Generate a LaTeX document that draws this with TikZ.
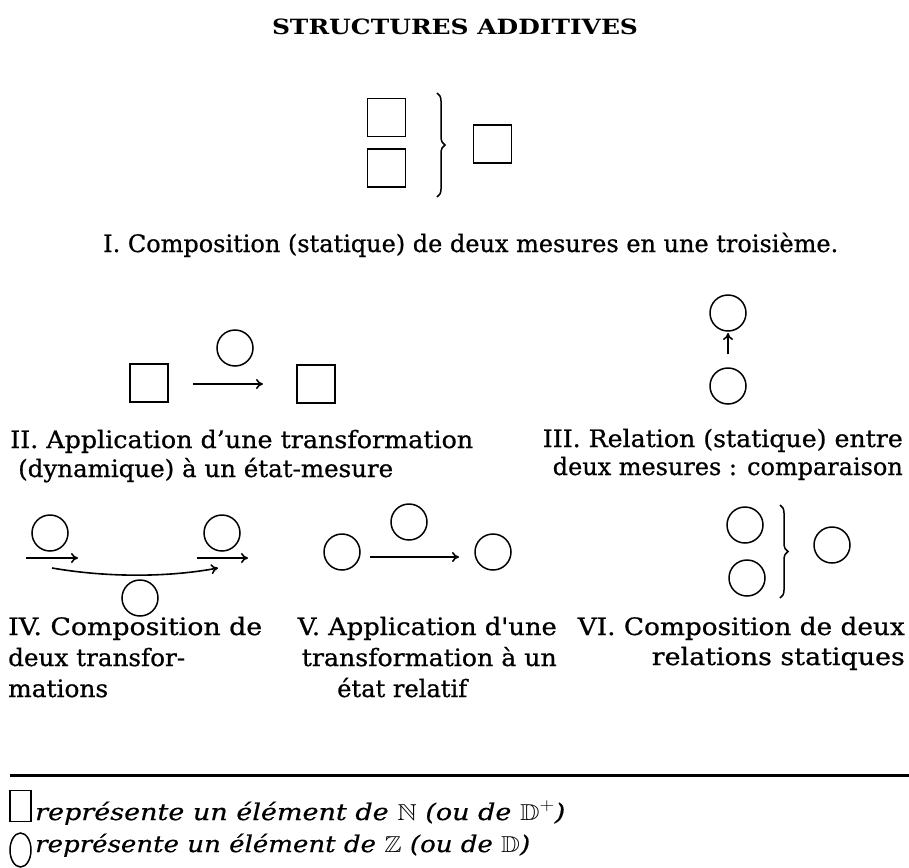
\documentclass[tikz,border=0pt]{standalone}
\usepackage{amssymb}
\usepackage{graphicx}
\usepackage{fontspec}
\setmainfont{DejaVu Serif}
\newfontfamily\bodyfont{DejaVu Serif}[FakeBold=0.7]
\newfontfamily\keyfont{DejaVu Serif}[FakeBold=0.5]
\usetikzlibrary{arrows.meta,decorations.pathreplacing,shapes.geometric}

% set a line of text to a given width, keeping its height
\newcommand\fitline[2]{\resizebox{#1}{\height}{#2}}

\begin{document}
\begin{tikzpicture}[x=1pt,y=-1pt,
  sq/.style={draw,line width=1.8pt,minimum size=38pt,inner sep=0pt},
  ci/.style={draw,circle,line width=1.5pt,minimum size=36pt,inner sep=0pt},
  arr/.style={-{To[length=7pt,width=10pt]},line width=1.6pt},
  bracestyle/.style={decorate,decoration={brace,amplitude=8pt},line width=1.5pt},
  body/.style={font=\bodyfont\fontsize{24}{28}\selectfont,inner sep=0pt},
  headline/.style={font=\fontsize{21}{24}\selectfont\bfseries,inner sep=0pt},
  legend/.style={font=\keyfont\fontsize{23}{26}\selectfont\itshape,inner sep=0pt}]
\useasboundingbox (0,0) rectangle (909,867);
\fill[white] (0,0) rectangle (909,867);

% title
\node[headline,anchor=base] (title) at (455,35) {\fitline{366pt}{STRUCTURES ADDITIVES}};

% I. two measures composed into a third
\node[sq] (s1a) at (386.5,117.5) {};
\node[sq] (s1b) at (386.5,168) {};
\node[sq] (s1c) at (492.5,144) {};
\draw[bracestyle] (437,93) -- (437,197);
\node[body,anchor=base west] (t1) at (103,252) {\fitline{735pt}{I. Composition (statique) de deux mesures en une troisième.}};

% II. transformation applied to a state
\node[sq] (s2a) at (149,383) {};
\node[ci] (c2) at (235,348) {};
\node[sq] (s2b) at (316,384) {};
\coordinate (a2s) at (193,384);
\coordinate (a2e) at (263,384);
\draw[arr] (a2s) -- (a2e);
\node[body,anchor=base west] (t2a) at (10,448) {\fitline{463pt}{II. Application d’une transformation}};
\node[body,anchor=base west] (t2b) at (18,477) {\fitline{375pt}{(dynamique) à un état-mesure}};

% III. static relation between two measures
\node[ci] (c3t) at (728,313) {};
\node[ci] (c3b) at (728,386) {};
\coordinate (a3s) at (728,354);
\coordinate (a3e) at (728,333);
\draw[arr] (a3s) -- (a3e);
\node[body,anchor=base east] (t3a) at (903,447) {\fitline{360pt}{III. Relation (statique) entre}};
\node[body,anchor=base east] (t3b) at (903,475) {\fitline{350pt}{deux mesures : comparaison}};

% IV. composition of two transformations
\node[ci] (c4a) at (50,533) {};
\node[ci] (c4b) at (222,533) {};
\node[ci] (c4c) at (140,598) {};
\coordinate (a4as) at (26,558);
\coordinate (a4ae) at (78,558);
\coordinate (a4bs) at (197,558);
\coordinate (a4be) at (248,558);
\coordinate (a4cs) at (52,568);
\coordinate (a4ce) at (218,568);
\draw[arr] (a4as) -- (a4ae);
\draw[arr] (a4bs) -- (a4be);
\draw[arr] (a4cs) .. controls (110,578) and (170,577) .. (a4ce);
\node[body,anchor=base west] (t4a) at (8,635) {\fitline{254pt}{IV. Composition de}};
\node[body,anchor=base west] (t4b) at (8,666) {\fitline{177pt}{deux transfor-}};
\node[body,anchor=base west] (t4c) at (8,697) {\fitline{100pt}{mations}};

% V. transformation applied to a relative state
\node[ci] (c5a) at (342,552) {};
\node[ci] (c5b) at (409,522) {};
\node[ci] (c5c) at (493,552) {};
\coordinate (a5s) at (370,557);
\coordinate (a5e) at (459,557);
\draw[arr] (a5s) -- (a5e);
\node[body,anchor=base east] (t5a) at (557,635) {\fitline{259pt}{V. Application d'une}};
\node[body,anchor=base east] (t5b) at (557,666) {\fitline{255pt}{transformation à un}};
\node[body,anchor=base west] (t5c) at (337,697) {\fitline{130pt}{état relatif}};

% VI. composition of two static relations
\node[ci] (c6a) at (745,525) {};
\node[ci] (c6b) at (747,578) {};
\node[ci] (c6c) at (832,545) {};
\draw[bracestyle] (780,505) -- (780,598);
\node[body,anchor=base east] (t6a) at (905,635) {\fitline{327pt}{VI. Composition de deux}};
\node[body,anchor=base east] (t6b) at (905,665) {\fitline{253pt}{relations statiques}};

% key
\draw[line width=3pt] (10,775) -- (909,775);
\node[draw,line width=1.5pt,minimum width=21pt,minimum height=31pt,inner sep=0pt] (ksq) at (20.5,806) {};
\node[draw,ellipse,line width=1.5pt,minimum width=21pt,minimum height=34pt,inner sep=0pt] (kci) at (20.5,850) {};
\node[legend,anchor=base west] (k1) at (35,820) {\fitline{530pt}{représente un élément de $\mathbb{N}$ (ou de $\mathbb{D}^{+}$)}};
\node[legend,anchor=base west] (k2) at (35,852) {\fitline{495pt}{représente un élément de $\mathbb{Z}$ (ou de $\mathbb{D}$)}};
\end{tikzpicture}
\end{document}
